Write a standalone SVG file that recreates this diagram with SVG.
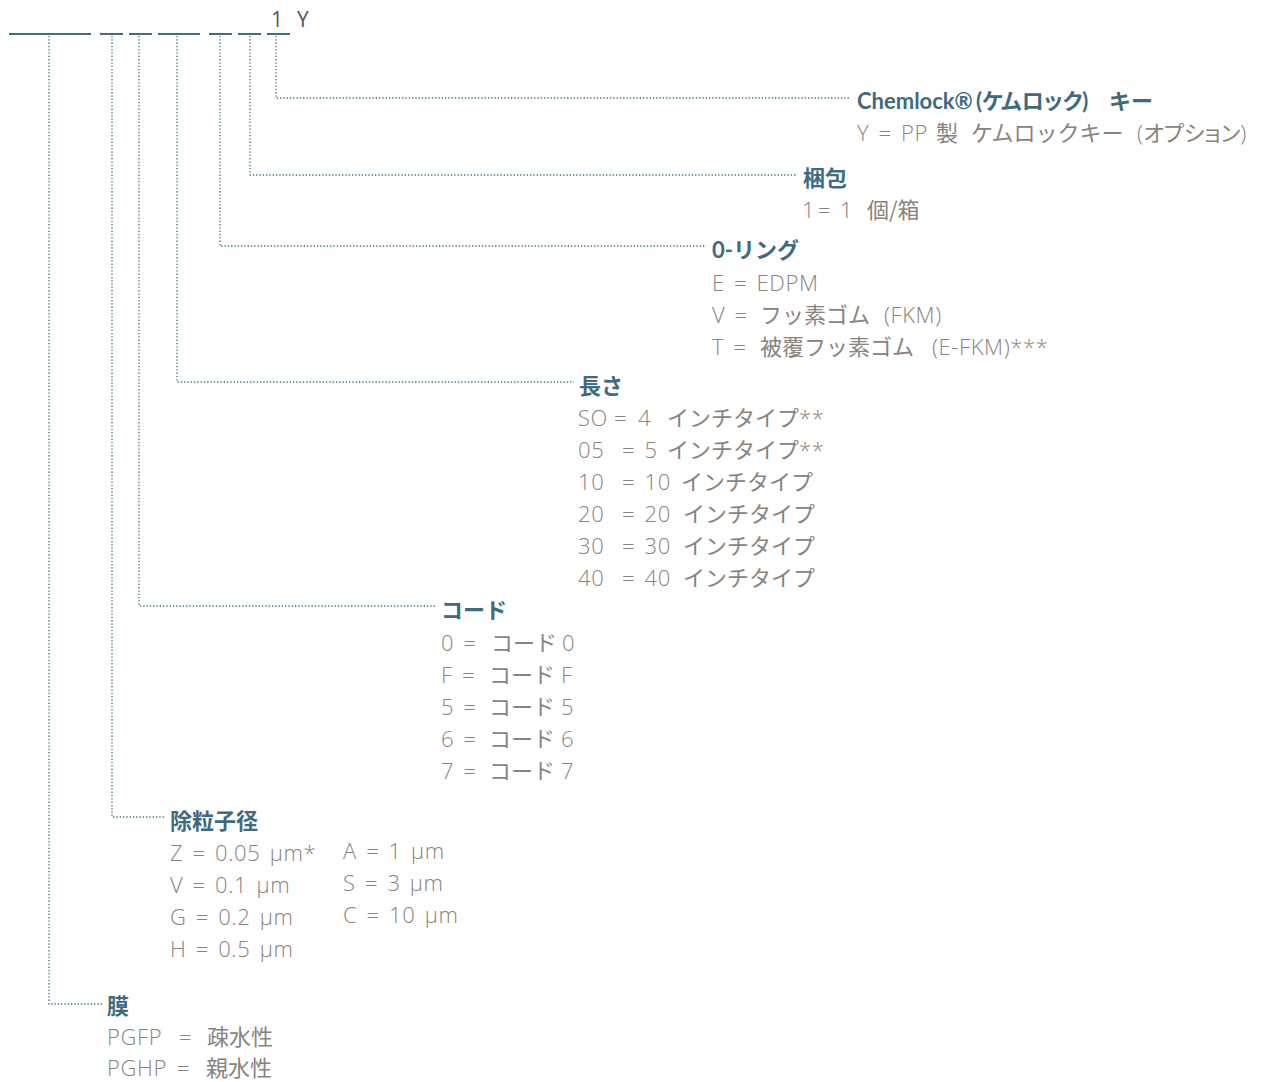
<svg xmlns="http://www.w3.org/2000/svg" width="1263" height="1082" viewBox="0 0 1263 1082">
<style>
.u{stroke:#3f6e84;stroke-width:2;fill:none}
.d{stroke:#3f6e84;stroke-width:1.3;fill:none;stroke-dasharray:1.3 2}
.h{font-family:"Lato","Noto Sans CJK JP",sans-serif;font-weight:700;font-size:22px;fill:#406a7e;white-space:pre}
.t{font-family:"Open Sans","Noto Sans CJK JP",sans-serif;font-weight:300;font-size:22px;fill:#8a827c;white-space:pre;letter-spacing:0.6px;word-spacing:3px}
.c{font-family:"Noto Sans CJK JP",sans-serif;font-weight:400;letter-spacing:0;word-spacing:0}
.p{font-feature-settings:"palt"}
.k{font-family:"Open Sans","Noto Sans CJK JP",sans-serif;font-weight:400;font-size:21px;fill:#555;white-space:pre}
</style>
<rect width="1263" height="1082" fill="#fff"/>
<g id="code">
<line class="u" x1="9" y1="34" x2="91" y2="34"/>
<line class="u" x1="100" y1="34" x2="123" y2="34"/>
<line class="u" x1="129" y1="34" x2="152" y2="34"/>
<line class="u" x1="158" y1="34" x2="200" y2="34"/>
<line class="u" x1="209" y1="34" x2="232" y2="34"/>
<line class="u" x1="238" y1="34" x2="261" y2="34"/>
<line class="u" x1="267" y1="34" x2="290" y2="34"/>
<text class="k" x="271" y="27">1</text>
<text class="k" x="297" y="27">Y</text>
</g>
<g id="connectors">
<polyline class="d" points="276,36 276,98 851,98"/>
<polyline class="d" points="250,36 250,175 796,175"/>
<polyline class="d" points="220,36 220,246 706,246"/>
<polyline class="d" points="177,36 177,382 574,382"/>
<polyline class="d" points="139,36 139,606 436,606"/>
<polyline class="d" points="112,36 112,817 165,817"/>
<polyline class="d" points="49,36 49,1004 103,1004"/>
</g>
<g id="chemlock">
<text class="h" x="857" y="109">Chemlock®<tspan x="976">(</tspan><tspan class="p">ケムロック</tspan>)<tspan x="1109">キー</tspan></text>
<text class="t" x="857" y="141">Y = PP<tspan class="c" x="936">製</tspan><tspan class="c" x="971">ケムロックキー</tspan><tspan x="1137">(</tspan><tspan class="c p">オプション</tspan>)</text>
</g>
<g id="packaging">
<text class="h" x="803" y="186">梱包</text>
<text class="t" x="802" y="218">1<tspan x="818">=</tspan><tspan x="840">1</tspan><tspan class="c" x="867">個/箱</tspan></text>
</g>
<g id="oring">
<text class="h" x="712" y="258">0-リング</text>
<text class="t" x="712" y="291">E = EDPM</text>
<text class="t" x="712" y="323">V =<tspan class="c" x="760">フッ素ゴム</tspan><tspan x="884">(FKM)</tspan></text>
<text class="t" x="712" y="355">T =<tspan class="c" x="760">被覆フッ素ゴム</tspan><tspan x="932">(E-FKM)***</tspan></text>
</g>
<g id="length">
<text class="h" x="579" y="394">長さ</text>
<text class="t" x="578" y="426">SO<tspan x="614">=</tspan><tspan x="638">4</tspan><tspan class="c" x="667">インチタイプ</tspan>**</text>
<text class="t" x="578" y="458">05<tspan x="622">= 5</tspan><tspan class="c" x="667">インチタイプ</tspan>**</text>
<text class="t" x="578" y="490">10<tspan x="622">= 10</tspan><tspan class="c" x="681">インチタイプ</tspan></text>
<text class="t" x="578" y="522">20<tspan x="622">= 20</tspan><tspan class="c" x="683">インチタイプ</tspan></text>
<text class="t" x="578" y="554">30<tspan x="622">= 30</tspan><tspan class="c" x="683">インチタイプ</tspan></text>
<text class="t" x="578" y="586">40<tspan x="622">= 40</tspan><tspan class="c" x="683">インチタイプ</tspan></text>
</g>
<g id="cord">
<text class="h" x="441" y="618">コード</text>
<text class="t" x="441" y="651">0 =<tspan class="c" x="491">コード</tspan><tspan x="562">0</tspan></text>
<text class="t" x="441" y="683">F =<tspan class="c" x="489">コード</tspan><tspan x="561">F</tspan></text>
<text class="t" x="441" y="715">5 =<tspan class="c" x="489">コード</tspan><tspan x="561">5</tspan></text>
<text class="t" x="441" y="747">6 =<tspan class="c" x="489">コード</tspan><tspan x="561">6</tspan></text>
<text class="t" x="441" y="779">7 =<tspan class="c" x="489">コード</tspan><tspan x="561">7</tspan></text>
</g>
<g id="rating">
<text class="h" x="170" y="829">除粒子径</text>
<text class="t" x="170" y="861">Z = 0.05 μm*</text>
<text class="t" x="170" y="893">V = 0.1 μm</text>
<text class="t" x="170" y="925">G = 0.2 μm</text>
<text class="t" x="170" y="957">H = 0.5 μm</text>
<text class="t" x="343" y="859">A = 1 μm</text>
<text class="t" x="343" y="891">S = 3 μm</text>
<text class="t" x="343" y="923">C = 10 μm</text>
</g>
<g id="membrane">
<text class="h" x="107" y="1014">膜</text>
<text class="t" x="107" y="1045">PGFP<tspan x="179">=</tspan><tspan class="c" x="207">疎水性</tspan></text>
<text class="t" x="107" y="1076">PGHP<tspan x="177">=</tspan><tspan class="c" x="206">親水性</tspan></text>
</g>
</svg>
